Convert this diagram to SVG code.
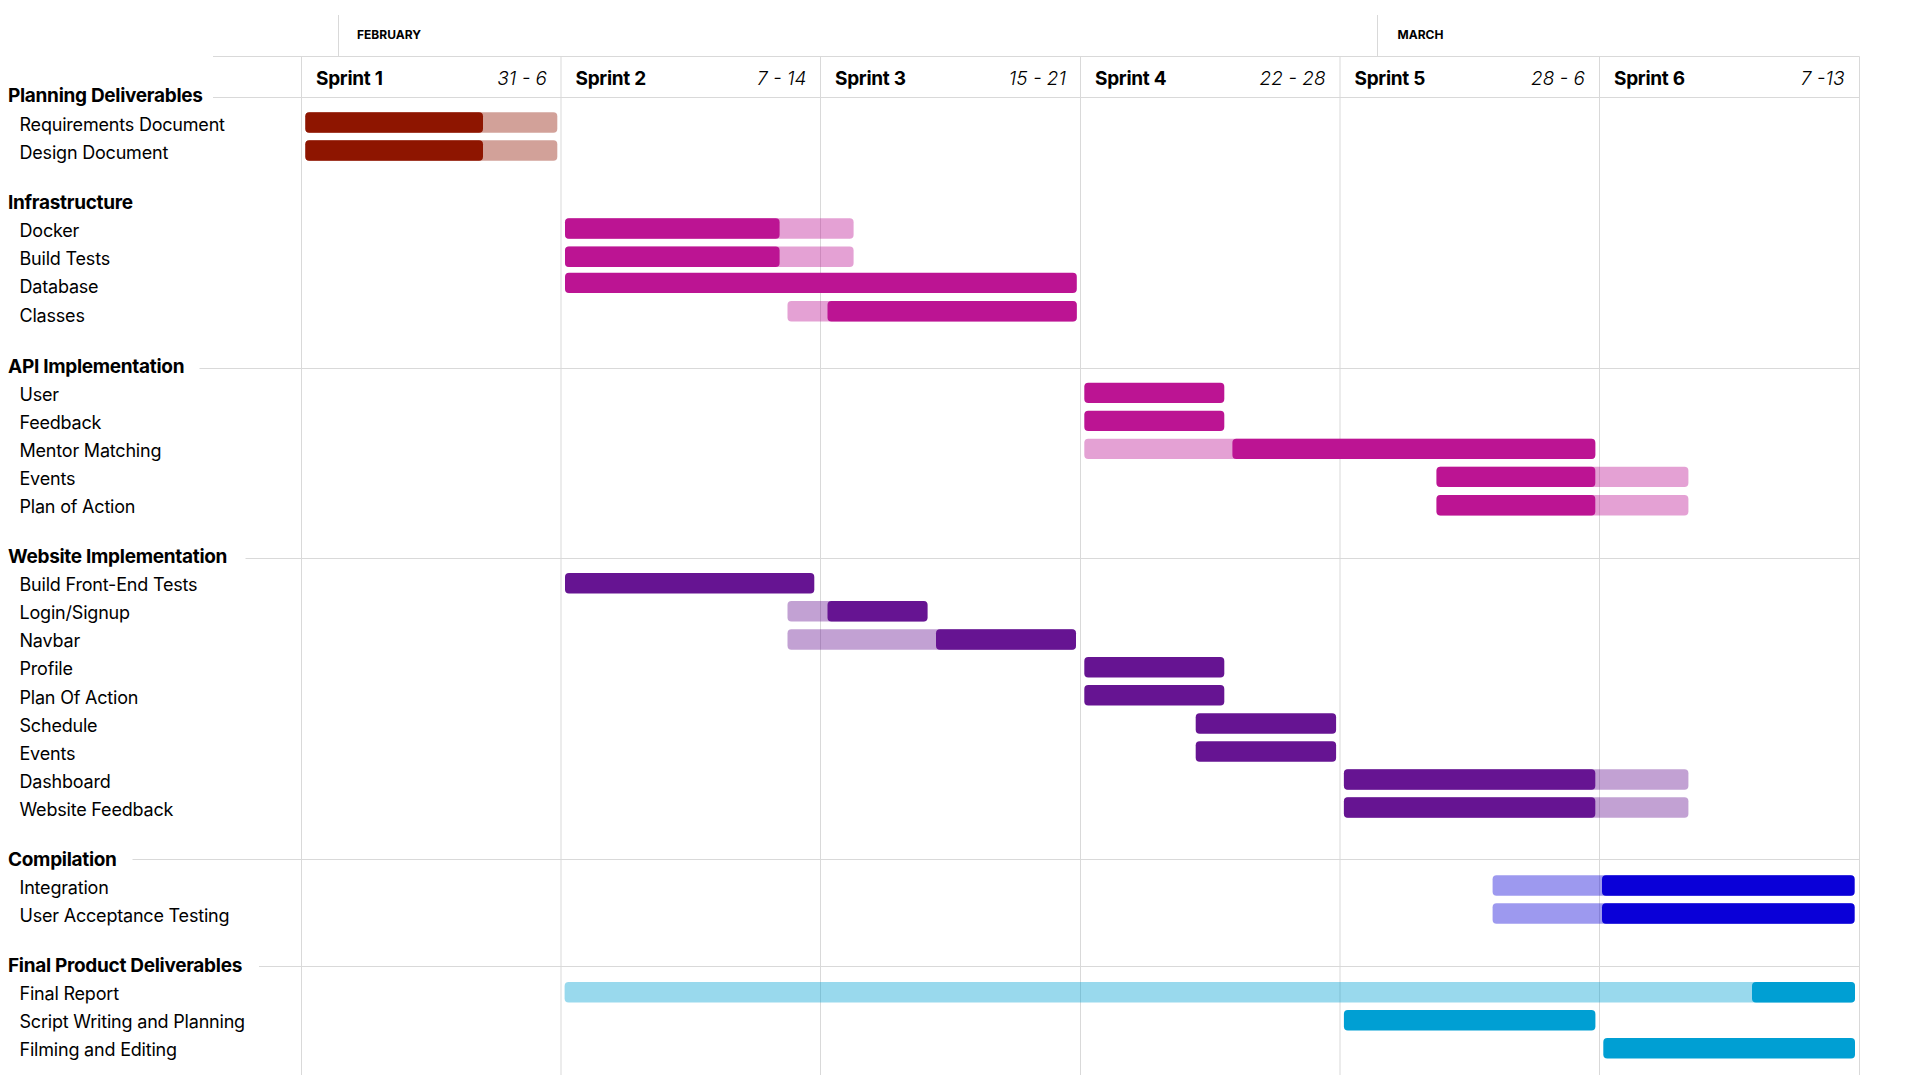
<svg xmlns="http://www.w3.org/2000/svg" width="1920" height="1080" viewBox="0 0 1920 1080">
<style>
text{font-family:Inter,"Noto Sans","Liberation Sans",sans-serif;fill:#000}
.month{font-size:12px;font-weight:700}
.sprint{font-size:19px;font-weight:700;letter-spacing:-0.3px}
.dates{font-size:19px;font-style:italic;font-weight:300;text-anchor:end}
.sec{font-size:19px;font-weight:700;letter-spacing:-0.3px}
.task{font-size:18px;letter-spacing:-0.2px}
.grid{stroke:#d9d9d9;stroke-width:1;fill:none}
.red{fill:#8e1500}.mag{fill:#bc1493}.pur{fill:#661492}.blu{fill:#0a00d8}.cya{fill:#009fd3}
.lt{fill-opacity:0.4}
rect{rx:4px;ry:4px}
</style>
<rect width="1920" height="1080" fill="#fff" style="rx:0;ry:0"/>
<g id="grid" class="grid">
<line x1="338.5" y1="15" x2="338.5" y2="56.5"/>
<line x1="1377.5" y1="15" x2="1377.5" y2="56.5"/>
<line x1="213" y1="56.5" x2="1859.5" y2="56.5"/>
<line x1="213" y1="97.5" x2="1859.5" y2="97.5"/>
<line x1="301.5" y1="56.5" x2="301.5" y2="1075"/>
<line x1="561" y1="56.5" x2="561" y2="1075"/>
<line x1="820.5" y1="56.5" x2="820.5" y2="1075"/>
<line x1="1080.5" y1="56.5" x2="1080.5" y2="1075"/>
<line x1="1340" y1="56.5" x2="1340" y2="1075"/>
<line x1="1599.5" y1="56.5" x2="1599.5" y2="1075"/>
<line x1="1859.5" y1="56.5" x2="1859.5" y2="1075"/>
<line x1="199.5" y1="368.5" x2="1859.5" y2="368.5"/>
<line x1="245.5" y1="558.5" x2="1859.5" y2="558.5"/>
<line x1="132.5" y1="859.5" x2="1859.5" y2="859.5"/>
<line x1="259" y1="966.5" x2="1859.5" y2="966.5"/>
</g>
<g id="header">
<text class="month" x="357" y="39">FEBRUARY</text>
<text class="month" x="1397.5" y="39">MARCH</text>
<text class="sprint" x="316" y="85">Sprint 1</text><text class="dates" x="547" y="85">31 - 6</text>
<text class="sprint" x="575.5" y="85">Sprint 2</text><text class="dates" x="806.5" y="85">7 - 14</text>
<text class="sprint" x="835" y="85">Sprint 3</text><text class="dates" x="1066" y="85">15 - 21</text>
<text class="sprint" x="1095" y="85">Sprint 4</text><text class="dates" x="1325.5" y="85">22 - 28</text>
<text class="sprint" x="1354.5" y="85">Sprint 5</text><text class="dates" x="1585" y="85">28 - 6</text>
<text class="sprint" x="1614" y="85">Sprint 6</text><text class="dates" x="1844.5" y="85">7 -13</text>
</g>
<g id="sections">
<text class="sec" x="8" y="102">Planning Deliverables</text>
<text class="sec" x="8" y="208.5">Infrastructure</text>
<text class="sec" x="8" y="372.5">API Implementation</text>
<text class="sec" x="8" y="562.5">Website Implementation</text>
<text class="sec" x="8" y="866">Compilation</text>
<text class="sec" x="8" y="972">Final Product Deliverables</text>
</g>
<g id="task-requirements"><text class="task" x="19.5" y="130.5">Requirements Document</text><rect class="red lt" x="305.3" y="112.3" width="252" height="20.4"/><rect class="red" x="305.3" y="112.3" width="177.7" height="20.4"/></g>
<g id="task-design"><text class="task" x="19.5" y="158.5">Design Document</text><rect class="red lt" x="305.3" y="140.3" width="252" height="20.4"/><rect class="red" x="305.3" y="140.3" width="177.7" height="20.4"/></g>
<g id="task-docker"><text class="task" x="19.5" y="236.5">Docker</text><rect class="mag lt" x="565" y="218.3" width="288.6" height="20.4"/><rect class="mag" x="565" y="218.3" width="214.6" height="20.4"/></g>
<g id="task-build-tests"><text class="task" x="19.5" y="264.5">Build Tests</text><rect class="mag lt" x="565" y="246.5" width="288.6" height="20.4"/><rect class="mag" x="565" y="246.5" width="214.6" height="20.4"/></g>
<g id="task-database"><text class="task" x="19.5" y="292.5">Database</text><rect class="mag" x="565" y="272.7" width="511.8" height="20.4"/></g>
<g id="task-classes"><text class="task" x="19.5" y="322">Classes</text><rect class="mag lt" x="787.5" y="301" width="289.3" height="20.4"/><rect class="mag" x="827.5" y="301" width="249.3" height="20.4"/></g>
<g id="task-user"><text class="task" x="19.5" y="400.5">User</text><rect class="mag" x="1084.3" y="382.7" width="140" height="20.4"/></g>
<g id="task-feedback"><text class="task" x="19.5" y="428.5">Feedback</text><rect class="mag" x="1084.3" y="410.7" width="140" height="20.4"/></g>
<g id="task-mentor"><text class="task" x="19.5" y="456.5">Mentor Matching</text><rect class="mag lt" x="1084.3" y="438.7" width="511" height="20.4"/><rect class="mag" x="1232.4" y="438.7" width="362.9" height="20.4"/></g>
<g id="task-api-events"><text class="task" x="19.5" y="485">Events</text><rect class="mag lt" x="1436.5" y="466.7" width="251.9" height="20.4"/><rect class="mag" x="1436.5" y="466.7" width="158.8" height="20.4"/></g>
<g id="task-api-plan"><text class="task" x="19.5" y="513">Plan of Action</text><rect class="mag lt" x="1436.5" y="495" width="251.9" height="20.4"/><rect class="mag" x="1436.5" y="495" width="158.8" height="20.4"/></g>
<g id="task-fe-tests"><text class="task" x="19.5" y="591">Build Front-End Tests</text><rect class="pur" x="565" y="573" width="249.3" height="20.4"/></g>
<g id="task-login"><text class="task" x="19.5" y="619">Login/Signup</text><rect class="pur lt" x="787.5" y="601" width="140" height="20.4"/><rect class="pur" x="827.5" y="601" width="100" height="20.4"/></g>
<g id="task-navbar"><text class="task" x="19.5" y="647">Navbar</text><rect class="pur lt" x="787.5" y="629.3" width="288.5" height="20.4"/><rect class="pur" x="936" y="629.3" width="140" height="20.4"/></g>
<g id="task-profile"><text class="task" x="19.5" y="675">Profile</text><rect class="pur" x="1084.3" y="657" width="140" height="20.4"/></g>
<g id="task-web-plan"><text class="task" x="19.5" y="703.5">Plan Of Action</text><rect class="pur" x="1084.3" y="685" width="140" height="20.4"/></g>
<g id="task-schedule"><text class="task" x="19.5" y="731.5">Schedule</text><rect class="pur" x="1195.7" y="713.3" width="140.4" height="20.4"/></g>
<g id="task-web-events"><text class="task" x="19.5" y="759.5">Events</text><rect class="pur" x="1195.7" y="741.3" width="140.4" height="20.4"/></g>
<g id="task-dashboard"><text class="task" x="19.5" y="787.5">Dashboard</text><rect class="pur lt" x="1343.9" y="769.3" width="344.5" height="20.4"/><rect class="pur" x="1343.9" y="769.3" width="251.4" height="20.4"/></g>
<g id="task-web-feedback"><text class="task" x="19.5" y="815.5">Website Feedback</text><rect class="pur lt" x="1343.9" y="797.3" width="344.5" height="20.4"/><rect class="pur" x="1343.9" y="797.3" width="251.4" height="20.4"/></g>
<g id="task-integration"><text class="task" x="19.5" y="893.5">Integration</text><rect class="blu lt" x="1492.6" y="875.3" width="362" height="20.4"/><rect class="blu" x="1602" y="875.3" width="252.6" height="20.4"/></g>
<g id="task-uat"><text class="task" x="19.5" y="921.5">User Acceptance Testing</text><rect class="blu lt" x="1492.6" y="903.3" width="362" height="20.4"/><rect class="blu" x="1602" y="903.3" width="252.6" height="20.4"/></g>
<g id="task-final-report"><text class="task" x="19.5" y="1000">Final Report</text><rect class="cya lt" x="564.6" y="982" width="1290.4" height="20.4"/><rect class="cya" x="1752" y="982" width="103" height="20.4"/></g>
<g id="task-script"><text class="task" x="19.5" y="1028">Script Writing and Planning</text><rect class="cya" x="1343.9" y="1010" width="251.5" height="20.4"/></g>
<g id="task-filming"><text class="task" x="19.5" y="1056">Filming and Editing</text><rect class="cya" x="1603.3" y="1038" width="251.7" height="20.4"/></g>
</svg>
